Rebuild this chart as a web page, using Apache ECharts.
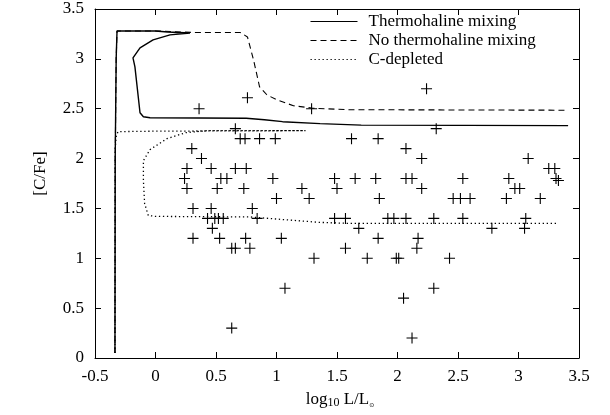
<!DOCTYPE html>
<html>

<head>
    <meta charset="utf-8" />
    <title>[C/Fe] vs log L</title>
    <script src="https://cdn.jsdelivr.net/npm/echarts@6/dist/echarts.min.js"></script>
    <style>
        html, body { margin: 0; padding: 0; background: #fff; }
        #chart { width: 610px; height: 415px; }
    </style>
</head>

<body>
    <div id="chart"></div>
    <script>
        // 轴刻度
        const xTicks = [-0.5, 0, 0.5, 1, 1.5, 2, 2.5, 3, 3.5];
        const yTicks = [0, 0.5, 1, 1.5, 2, 2.5, 3, 3.5];

        // 模型曲线
        const thermoX = [-0.335, -0.333, -0.325, -0.318, 0.0, 0.1, 0.285, 0.12, -0.02, -0.128, -0.186, -0.17, -0.128, -0.10, -0.045, 0.75, 0.9, 1.05, 1.36, 1.7, 3.41];
        const thermoY = [0.05, 2.0, 3.0, 3.28, 3.28, 3.27, 3.26, 3.24, 3.19, 3.11, 3.01, 2.92, 2.46, 2.42, 2.41, 2.405, 2.39, 2.37, 2.35, 2.335, 2.33];

        const noThermoX = [-0.335, -0.333, -0.325, -0.318, 0.0, 0.3, 0.70, 0.76, 0.81, 0.86, 0.92, 1.0, 1.14, 1.30, 1.6, 3.41];
        const noThermoY = [0.05, 2.0, 3.0, 3.28, 3.28, 3.265, 3.265, 3.22, 2.99, 2.72, 2.64, 2.59, 2.53, 2.505, 2.49, 2.485];

        const depletedX = [-0.335, -0.333, -0.325, -0.31, 0.0, 1.24, 0.43, 0.25, 0.095, -0.045, -0.10, -0.10, -0.09, -0.06, 0.0, 0.78, 1.09, 1.36, 1.6, 3.33];
        const depletedY = [0.05, 2.1, 2.22, 2.27, 2.275, 2.28, 2.28, 2.26, 2.2, 2.09, 1.98, 1.78, 1.55, 1.43, 1.42, 1.415, 1.385, 1.36, 1.35, 1.35];

        // 观测点
        const obsX = [0.36, 0.76, 0.66, 1.29, 2.24, 2.32, 0.70, 0.74, 0.86, 0.99, 1.62, 1.84, 0.30, 2.07, 0.38, 2.20, 3.08,
            0.26, 0.46, 0.66, 0.75, 3.25, 3.30, 0.24, 0.54, 0.59, 0.97, 1.48, 1.65, 1.82, 2.07, 2.12, 2.54, 2.92, 3.31, 3.33,
            0.26, 0.51, 0.73, 1.21, 1.50, 2.20, 2.97, 3.01, 1.00, 1.27, 1.85, 2.46, 2.52, 2.60, 2.90, 3.18,
            0.31, 0.46, 0.80, 0.43, 0.49, 0.52, 0.56, 0.84, 1.48, 1.57, 1.92, 1.97, 2.07, 2.30, 2.54, 3.06,
            0.47, 1.68, 2.78, 3.05, 0.31, 0.53, 0.745, 1.04, 1.84, 2.17, 0.63, 0.66, 0.78, 1.57, 2.16,
            1.31, 1.75, 1.99, 2.01, 2.43, 1.07, 2.30, 2.05, 2.12, 0.63];
        const obsY = [2.50, 2.61, 2.30, 2.50, 2.70, 2.30, 2.20, 2.20, 2.20, 2.20, 2.20, 2.20, 2.10, 2.10, 2.00, 2.00, 2.00,
            1.90, 1.90, 1.90, 1.90, 1.90, 1.90, 1.80, 1.80, 1.80, 1.80, 1.80, 1.80, 1.80, 1.80, 1.80, 1.80, 1.80, 1.80, 1.78,
            1.70, 1.70, 1.70, 1.70, 1.70, 1.70, 1.70, 1.70, 1.60, 1.60, 1.60, 1.60, 1.60, 1.60, 1.60, 1.60,
            1.50, 1.50, 1.50, 1.40, 1.40, 1.40, 1.40, 1.40, 1.40, 1.40, 1.40, 1.40, 1.40, 1.40, 1.40, 1.40,
            1.30, 1.30, 1.30, 1.30, 1.20, 1.20, 1.20, 1.20, 1.20, 1.20, 1.10, 1.10, 1.10, 1.10, 1.10,
            1.00, 1.00, 1.00, 1.00, 1.00, 0.70, 0.70, 0.60, 0.20, 0.30];

        const zip = (xs, ys) => xs.map((x, i) => [x, ys[i]]);
        const serif = 'Liberation Serif';
        const plus = 'path://M4.5,0H5.5V4.5H10V5.5H5.5V10H4.5V5.5H0V4.5H4.5Z';

        var myChart = echarts.init(document.getElementById('chart'));

        // 四边都画向内的刻度
        const baseAxis = {
            type: 'value',
            interval: 0.5,
            axisLine: { show: true, onZero: false, lineStyle: { color: '#000', width: 1 } },
            axisTick: { show: true, inside: true, length: 6, lineStyle: { color: '#000' } },
            splitLine: { show: false }
        };
        const labelStyle = { color: '#000', fontFamily: serif, fontSize: 17 };

        option = {
            animation: false,
            backgroundColor: '#fff',
            grid: { left: 95, right: 31, top: 9, bottom: 57 },
            legend: {
                data: ['Thermohaline mixing', 'No thermohaline mixing', 'C-depleted'],
                orient: 'vertical',
                left: 310,
                top: 13,
                padding: 0,
                itemWidth: 47,
                itemHeight: 14,
                itemGap: 2,
                selectedMode: false,
                itemStyle: { opacity: 0 },
                lineStyle: { width: 1 },
                textStyle: { color: '#000', fontFamily: serif, fontSize: 17, lineHeight: 17, padding: [0, 0, 0, 6] }
            },
            xAxis: [
                Object.assign({}, baseAxis, {
                    min: xTicks[0], max: xTicks[xTicks.length - 1],
                    position: 'bottom',
                    axisLabel: Object.assign({ margin: 10 }, labelStyle),
                    name: '{a|log}{s|10}{a| L/L}{o|⊙}',
                    nameLocation: 'middle',
                    nameGap: 33,
                    nameTextStyle: {
                        color: '#000',
                        padding: [0, 0, 0, 6],
                        rich: {
                            a: { fontFamily: serif, fontSize: 17, lineHeight: 17, verticalAlign: 'top', color: '#000' },
                            s: { fontFamily: serif, fontSize: 12, lineHeight: 12, padding: [7, 0, 0, 0], color: '#000' },
                            o: { fontFamily: 'DejaVu Sans', fontSize: 6, lineHeight: 6, padding: [12, 0, 0, 0], color: '#000' }
                        }
                    }
                }),
                Object.assign({}, baseAxis, {
                    min: xTicks[0], max: xTicks[xTicks.length - 1],
                    position: 'top',
                    axisLabel: { show: false }
                })
            ],
            yAxis: [
                Object.assign({}, baseAxis, {
                    min: yTicks[0], max: yTicks[yTicks.length - 1],
                    position: 'left',
                    axisLabel: Object.assign({ margin: 11 }, labelStyle),
                    name: '[C/Fe]',
                    nameLocation: 'middle',
                    nameGap: 46,
                    nameTextStyle: Object.assign({ padding: [0, 0, 0, 20] }, labelStyle)
                }),
                Object.assign({}, baseAxis, {
                    min: yTicks[0], max: yTicks[yTicks.length - 1],
                    position: 'right',
                    axisLabel: { show: false }
                })
            ],
            series: [
                {
                    name: 'Thermohaline mixing',
                    type: 'line',
                    data: zip(thermoX, thermoY),
                    symbol: 'none',
                    itemStyle: { color: '#000' },
                    lineStyle: { color: '#000', width: 1.4, type: 'solid' }
                },
                {
                    name: 'No thermohaline mixing',
                    type: 'line',
                    data: zip(noThermoX, noThermoY),
                    symbol: 'none',
                    itemStyle: { color: '#000' },
                    lineStyle: { color: '#000', width: 1.1, type: [6, 4] }
                },
                {
                    name: 'C-depleted',
                    type: 'line',
                    data: zip(depletedX, depletedY),
                    symbol: 'none',
                    itemStyle: { color: '#000' },
                    lineStyle: { color: '#000', width: 1.3, type: [1.3, 2.7] }
                },
                {
                    name: 'obs',
                    type: 'scatter',
                    data: zip(obsX, obsY),
                    symbol: plus,
                    symbolSize: 11,
                    itemStyle: { color: '#000', opacity: 1 }
                }
            ]
        };
        myChart.setOption(option);
    </script>
</body>

</html>
